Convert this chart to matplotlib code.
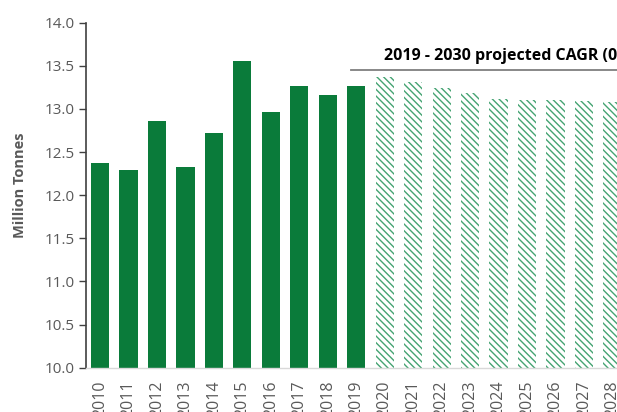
import numpy as np
import matplotlib.pyplot as plt

plt.rcParams['font.family'] = ['Open Sans', 'DejaVu Sans']
plt.rcParams['hatch.linewidth'] = 1.0

## Annual volumes, actual and projected
years_actual = [2010, 2011, 2012, 2013, 2014, 2015, 2016, 2017, 2018, 2019]
tonnes_actual = [12.37, 12.29, 12.86, 12.33, 12.72, 13.56, 12.96, 13.26, 13.16, 13.26]
years_proj = [2020, 2021, 2022, 2023, 2024, 2025, 2026, 2027, 2028, 2029, 2030]
tonnes_proj = [13.37, 13.31, 13.24, 13.18, 13.11, 13.10, 13.10, 13.09, 13.08, 13.07, 13.06]
cagr_label = '2019 - 2030 projected CAGR (0.1%)'

green = '#0a7b3a'
grey_txt = '#595959'

fig = plt.figure(figsize=(6.17, 4.12), dpi=100)
ax = fig.add_axes([0.139, 0.1075, 0.969, 0.8375])

all_years = years_actual + years_proj
x_act = np.arange(len(years_actual))
x_proj = np.arange(len(years_actual), len(all_years))

ax.bar(x_act, tonnes_actual, width=0.64, color=green, zorder=2)
## projected years: white bars with diagonal green hatching
ax.bar(x_proj, tonnes_proj, width=0.64, color='white', edgecolor='#45a372',
       linewidth=0, hatch='\\\\\\\\\\', zorder=2)

ax.set_ylim(10, 14)
ax.set_xlim(-0.5, len(all_years) - 0.5)
ax.set_yticks(np.arange(10, 14.01, 0.5))
ax.set_yticklabels([f'{v:.1f}' for v in np.arange(10, 14.01, 0.5)])
ax.set_xticks(np.arange(len(all_years)))
ax.set_xticklabels([str(y) for y in all_years], rotation=90)

ax.tick_params(axis='y', direction='out', length=5, width=1, color='#404040',
               labelsize=11, labelcolor=grey_txt, pad=3)
ax.tick_params(axis='x', length=0, labelsize=11.5, labelcolor=grey_txt, pad=9)

for s in ['top', 'right']:
    ax.spines[s].set_visible(False)
ax.spines['left'].set_color('#404040')
ax.spines['left'].set_linewidth(1.2)
ax.spines['bottom'].set_color('#d9d9d9')
ax.spines['bottom'].set_linewidth(1.0)

ax.set_ylabel('Million Tonnes', fontsize=10.5, fontweight='bold', color=grey_txt)
ax.yaxis.set_label_coords(-0.098, 0.53)

## bracket line and CAGR note over the forecast period
x0, x1 = 8.8, len(all_years) - 0.5
ax.plot([x0, x1], [13.45, 13.45], color='#7f7f7f', lw=1.3, clip_on=False, zorder=3)
ax.text((x0 + x1) / 2, 13.52, cagr_label, ha='center', va='bottom',
        fontsize=11.5, fontweight='bold', color='black', clip_on=False)

plt.savefig('out.png', dpi=100)
